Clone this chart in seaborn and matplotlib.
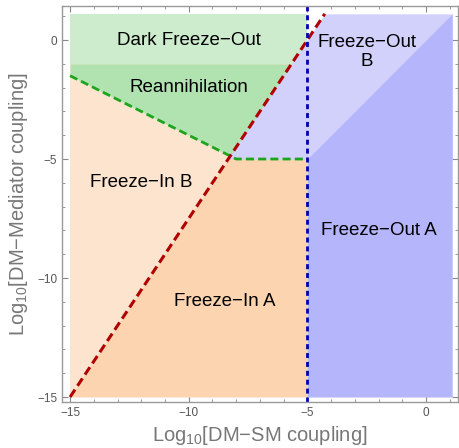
import numpy as np
import matplotlib
matplotlib.use("Agg")
import matplotlib.pyplot as plt
import seaborn as sns

# region boundaries (log10 couplings)
x_min, x_max = -15, 1.1
y_min, y_max = -15, 1.1
red_x = [-15, -4.27]          # freeze-in A / B boundary
red_y = [-15, 1.1]
green_x = [-15, -8, -5]       # reannihilation boundary
green_y = [-1.5, -5, -5]
dark_fo_y = -1                # dark freeze-out / reannihilation
fo_x = -5                     # freeze-out boundary in DM-SM coupling
diag_x = [-5, 1.1]            # freeze-out A / B boundary
diag_y = [-5, 1.1]

labels = ["Dark Freeze\u2212Out", "Reannihilation", "Freeze\u2212Out\nB",
          "Freeze\u2212In B", "Freeze\u2212Out A", "Freeze\u2212In A"]
label_x = [-10, -10, -2.5, -12, -2, -8.5]
label_y = [0, -2, -0.5, -6, -8, -11]

c_light_green = "#cdeccd"
c_green = "#b1e3b0"
c_light_orange = "#fde4cf"
c_orange = "#fcd5b0"
c_light_blue = "#d1d1fc"
c_blue = "#b5b5fc"

sns.set_style("ticks")
plt.rcParams["font.family"] = ["Liberation Sans", "DejaVu Sans"]
plt.rcParams["mathtext.fontset"] = "custom"
plt.rcParams["mathtext.rm"] = "Liberation Sans"

fig = plt.figure(figsize=(4.59, 4.48), dpi=100)
ax = fig.add_axes([62 / 459, 1 - 402 / 448, 396 / 459, 396 / 448])

# fills, layered
ax.fill_between([x_min, fo_x], y_min, y_max, color=c_light_orange, lw=0)
red_at_fo = np.interp(fo_x, red_x, red_y)
ax.fill_between([x_min, fo_x], y_min, [y_min, red_at_fo], color=c_orange, lw=0)
ax.fill_between(green_x, green_y, dark_fo_y, color=c_green, lw=0)
ax.fill_between([x_min, fo_x], dark_fo_y, y_max, color=c_light_green, lw=0)
yy = np.array([green_y[-1], y_max])
ax.fill_betweenx(yy, np.interp(yy, red_y, red_x), x_max, color=c_light_blue, lw=0)
ax.fill_between(diag_x, y_min, diag_y, color=c_blue, lw=0)

# boundary lines
sns.lineplot(x=green_x, y=green_y, ax=ax, color="#1ea51e", lw=2,
             linestyle=(0, (2.9, 1.5)), sort=False, estimator=None)
sns.lineplot(x=red_x, y=red_y, ax=ax, color="#b00000", lw=2.2,
             linestyle=(0, (2.9, 1.5)), sort=False, estimator=None)
ax.axvline(fo_x, color="#0000b0", lw=2, linestyle=(0, (1.8, 1.4)))

for t, x, y in zip(labels, label_x, label_y):
    ax.text(x, y, t, ha="center", va="center", fontsize=13.5, color="black",
            linespacing=1.1)

ax.set_xlim(-15.34, 1.345)
ax.set_ylim(-15.21, 1.43)
ax.set_xticks([-15, -10, -5, 0])
ax.set_yticks([-15, -10, -5, 0])
ax.set_xticks(np.arange(-15, 2), minor=True)
ax.set_yticks(np.arange(-15, 2), minor=True)
ax.tick_params(which="both", direction="in", top=True, right=True,
               colors="#888888", labelcolor="#555555", labelsize=8.5)
ax.tick_params(which="major", length=4.5, width=0.8)
ax.tick_params(which="minor", length=2.5, width=0.6)
for s in ax.spines.values():
    s.set_color("#999999")
    s.set_linewidth(1)

ax.set_xlabel(r"Log$_{10}$[DM$-$SM coupling]", fontsize=14.5, color="#777777",
              labelpad=4)
ax.set_ylabel(r"Log$_{10}$[DM$-$Mediator coupling]", fontsize=14.5,
              color="#777777", labelpad=5)

fig.savefig("out.png", dpi=100)
